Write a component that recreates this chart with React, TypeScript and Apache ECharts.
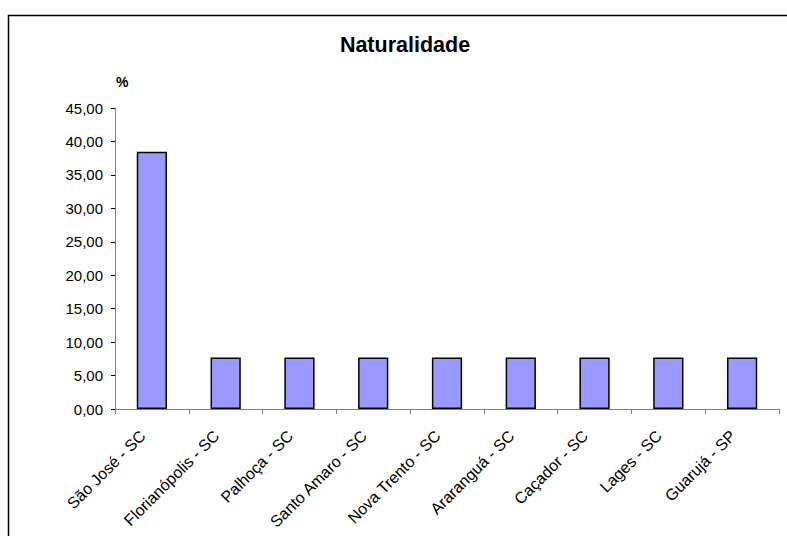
import React, { useEffect, useRef } from "react";
import * as echarts from "echarts";

const categories = [
  "São José - SC",
  "Florianópolis - SC",
  "Palhoça - SC",
  "Santo Amaro - SC",
  "Nova Trento - SC",
  "Ararangu\u00e1 - SC",
  "Caçador - SC",
  "Lages - SC",
  "Guarujá - SP",
];
const values = [38.46, 7.69, 7.69, 7.69, 7.69, 7.69, 7.69, 7.69, 7.69];
const yMin = 0;
const yMax = 45;
const yStep = 5;

export default function App() {
  const ref = useRef<HTMLDivElement>(null);
  useEffect(() => {
    if (!ref.current) return;
    const chart = echarts.init(ref.current, null, { renderer: "svg" });
    const font = "Liberation Sans, Arial, sans-serif";
    chart.setOption({
      animation: false,
      backgroundColor: "#ffffff",
      textStyle: { fontFamily: font },
      title: {
        text: "Naturalidade",
        left: 400,
        top: 29,
        textAlign: "center",
        textStyle: { fontFamily: font, fontSize: 21.5, fontWeight: "bold", color: "#000" },
      },
      graphic: [
        {
          type: "rect",
          shape: { x: 8.5, y: 15.5, width: 800, height: 600 },
          style: { fill: "none", stroke: "#000", lineWidth: 1.5 },
          silent: true,
        },
      ],
      grid: { left: 115, right: 8, top: 108, bottom: 127, containLabel: false },
      xAxis: {
        type: "category",
        data: categories,
        axisLine: { show: true, lineStyle: { color: "#808080", width: 1 } },
        axisTick: { show: true, alignWithLabel: false, length: 5, lineStyle: { color: "#808080" } },
        axisLabel: {
          rotate: 45,
          interval: 0,
          margin: 15,
          padding: [0, 13, 0, 0],
          color: "#000",
          fontSize: 16,
          fontFamily: font,
        },
      },
      yAxis: {
        type: "value",
        min: yMin,
        max: yMax,
        interval: yStep,
        name: "%",
        nameLocation: "end",
        nameGap: 19,
        nameTextStyle: { fontFamily: font, fontSize: 14, fontWeight: "bold", color: "#000", align: "left", padding: [0, 0, 0, 1] },
        axisLine: { show: true, lineStyle: { color: "#808080", width: 1 } },
        axisTick: { show: true, inside: false, length: 4, lineStyle: { color: "#000" } },
        splitLine: { show: false },
        axisLabel: {
          color: "#000",
          fontSize: 15,
          fontFamily: font,
          margin: 12,
          formatter: (v: number) => v.toFixed(2).replace(".", ","),
        },
      },
      series: [
        {
          type: "bar",
          data: values,
          barCategoryGap: "59%",
          itemStyle: { color: "#9999FF", borderColor: "#000", borderWidth: 1.5 },
        },
      ],
    });
    return () => chart.dispose();
  }, []);
  return (
    <div
      ref={ref}
      style={{ position: "absolute", left: 0, top: 0, width: 787, height: 536 }}
    />
  );
}
